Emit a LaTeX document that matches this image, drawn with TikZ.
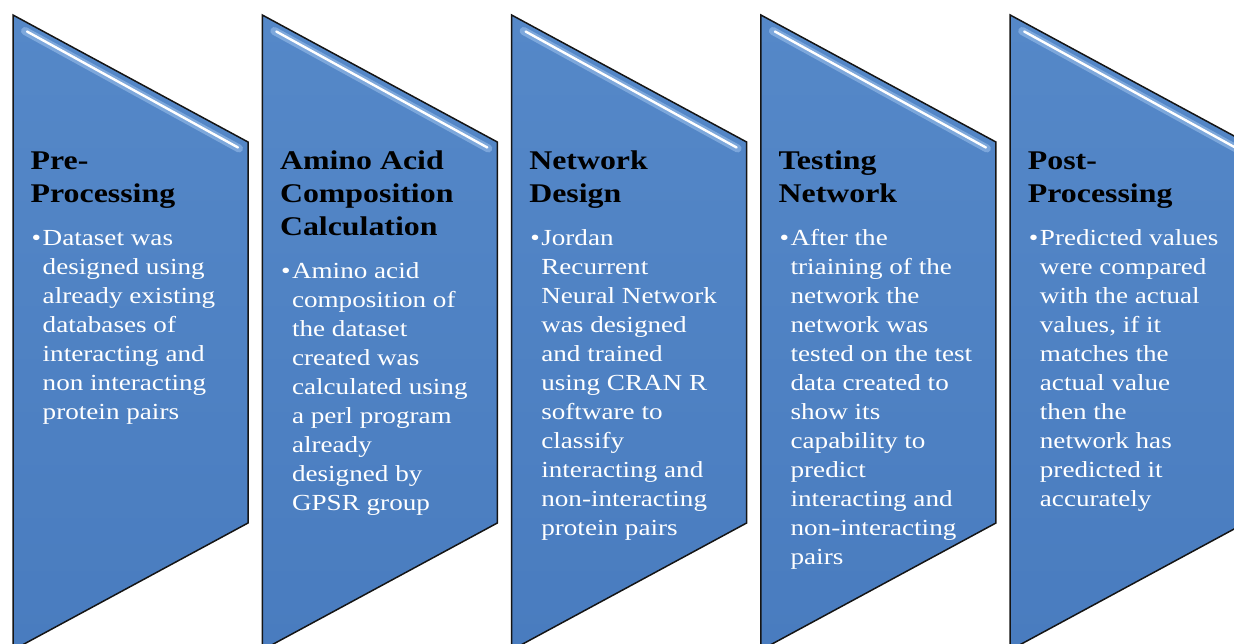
\documentclass[tikz,border=0pt]{standalone}
\usepackage{fontspec}
\setmainfont{Liberation Serif}[FakeStretch=1.18]
\definecolor{paneltop}{HTML}{5588C8}
\definecolor{panelbot}{HTML}{497CBF}
\definecolor{paneledge}{HTML}{151515}
\definecolor{glow}{HTML}{A6C8F0}
\tikzset{
  panel/.style={draw=paneledge, line width=1.5pt, line join=miter, top color=paneltop, bottom color=panelbot},
  glossline/.style={white, line width=2.4pt, line cap=round},
  glowline/.style={glow, line width=8pt, line cap=round, opacity=.5},
  titletext/.style={anchor=base west, inner sep=0pt, font=\fontsize{27}{33}\selectfont\bfseries, text=black},
  bodytext/.style={anchor=base west, inner sep=0pt, font=\fontsize{23}{29}\selectfont, text=white},
  bullettext/.style={anchor=base west, inner sep=0pt, font=\fontsize{23}{29}\selectfont, text=white},
}
\newcommand\colstack[1]{\begin{tabular}[t]{@{}l@{}}#1\end{tabular}}
\begin{document}
\begin{tikzpicture}[x=1pt, y=-1pt]
\useasboundingbox (0,0) rectangle (1234,643);
\clip (0,0) rectangle (1234,643);
\foreach \L in {13, 262.3, 511.6, 760.9, 1010.2} {
  \path[panel] (\L,15) -- (\L+235,142) -- (\L+235,523) -- (\L,650) -- cycle;
  \draw[glowline] (\L+12,31) -- (\L+226,148.5);
  \draw[glossline] (\L+14,31.5) -- (\L+225,147.5);
}
% column 1
\node[titletext] (t1) at (30.5,169) {\colstack{Pre-\\Processing}};
\node[bullettext] (b1) at (31.5,245) {•};
\node[bodytext] (d1) at (42.5,245) {\colstack{Dataset was\\designed using\\already existing\\databases of\\interacting and\\non interacting\\protein pairs}};
% column 2
\node[titletext] (t2) at (279.8,169) {\colstack{Amino Acid\\Composition\\Calculation}};
\node[bullettext] (b2) at (280.8,278) {•};
\node[bodytext] (d2) at (291.8,278) {\colstack{Amino acid\\composition of\\the dataset\\created was\\calculated using\\a perl program\\already\\designed by\\GPSR group}};
% column 3
\node[titletext] (t3) at (529.1,169) {\colstack{Network\\Design}};
\node[bullettext] (b3) at (530.1,245) {•};
\node[bodytext] (d3) at (541.1,245) {\colstack{Jordan\\Recurrent\\Neural Network\\was designed\\and trained\\using CRAN R\\software to\\classify\\interacting and\\non-interacting\\protein pairs}};
% column 4
\node[titletext] (t4) at (778.4,169) {\colstack{Testing\\Network}};
\node[bullettext] (b4) at (779.4,245) {•};
\node[bodytext] (d4) at (790.4,245) {\colstack{After the\\triaining of the\\network the\\network was\\tested on the test\\data created to\\show its\\capability to\\predict\\interacting and\\non-interacting\\pairs}};
% column 5
\node[titletext] (t5) at (1027.7,169) {\colstack{Post-\\Processing}};
\node[bullettext] (b5) at (1028.7,245) {•};
\node[bodytext] (d5) at (1039.7,245) {\colstack{Predicted values\\were compared\\with the actual\\values, if it\\matches the\\actual value\\then the\\network has\\predicted it\\accurately}};
\end{tikzpicture}
\end{document}
